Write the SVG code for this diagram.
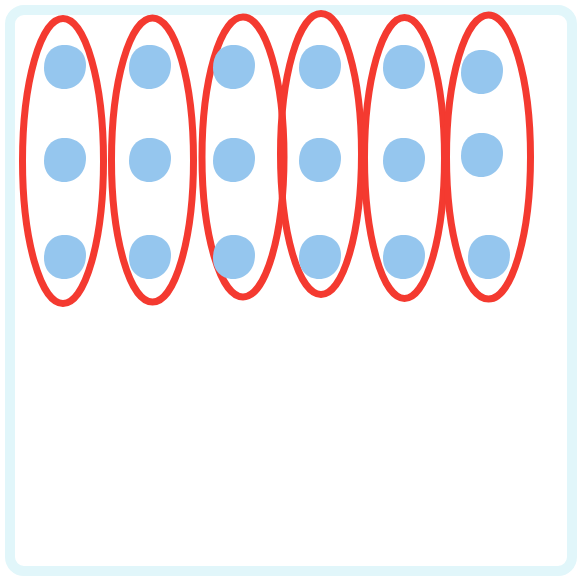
<svg xmlns="http://www.w3.org/2000/svg" width="578" height="576" viewBox="0 0 578 576">
<style>
.frame{fill:#ffffff;stroke:#e1f6fa;stroke-width:10}
.ring{fill:none;stroke:#f43a30;stroke-width:7}
.dot{fill:#95c6ee}
</style>
<rect class="frame" x="10" y="10" width="562" height="561" rx="14"/>
<g id="group1">
<ellipse class="ring" cx="63" cy="161" rx="40.5" ry="142.5"/>
<path class="dot" transform="translate(65 67)" d="M -3 -22 C 11 -23 21 -15 21 -2 C 21 12 12 22 -1 22 C -13 22 -21 13 -21 1 C -21 -12 -14 -21 -3 -22 Z"/>
<path class="dot" transform="translate(65 160)" d="M -3 -22 C 11 -23 21 -15 21 -2 C 21 12 12 22 -1 22 C -13 22 -21 13 -21 1 C -21 -12 -14 -21 -3 -22 Z"/>
<path class="dot" transform="translate(65 257)" d="M -3 -22 C 11 -23 21 -15 21 -2 C 21 12 12 22 -1 22 C -13 22 -21 13 -21 1 C -21 -12 -14 -21 -3 -22 Z"/>
</g>
<g id="group2">
<ellipse class="ring" cx="152.5" cy="160" rx="41" ry="142"/>
<path class="dot" transform="translate(150 67)" d="M -3 -22 C 11 -23 21 -15 21 -2 C 21 12 12 22 -1 22 C -13 22 -21 13 -21 1 C -21 -12 -14 -21 -3 -22 Z"/>
<path class="dot" transform="translate(150 160)" d="M -3 -22 C 11 -23 21 -15 21 -2 C 21 12 12 22 -1 22 C -13 22 -21 13 -21 1 C -21 -12 -14 -21 -3 -22 Z"/>
<path class="dot" transform="translate(150 257)" d="M -3 -22 C 11 -23 21 -15 21 -2 C 21 12 12 22 -1 22 C -13 22 -21 13 -21 1 C -21 -12 -14 -21 -3 -22 Z"/>
</g>
<g id="group3">
<ellipse class="ring" cx="243" cy="157" rx="41" ry="140"/>
<path class="dot" transform="translate(234 67)" d="M -3 -22 C 11 -23 21 -15 21 -2 C 21 12 12 22 -1 22 C -13 22 -21 13 -21 1 C -21 -12 -14 -21 -3 -22 Z"/>
<path class="dot" transform="translate(234 160)" d="M -3 -22 C 11 -23 21 -15 21 -2 C 21 12 12 22 -1 22 C -13 22 -21 13 -21 1 C -21 -12 -14 -21 -3 -22 Z"/>
<path class="dot" transform="translate(234 257)" d="M -3 -22 C 11 -23 21 -15 21 -2 C 21 12 12 22 -1 22 C -13 22 -21 13 -21 1 C -21 -12 -14 -21 -3 -22 Z"/>
</g>
<g id="group4">
<ellipse class="ring" cx="321" cy="154" rx="40.5" ry="140.5"/>
<path class="dot" transform="translate(320 67)" d="M -3 -22 C 11 -23 21 -15 21 -2 C 21 12 12 22 -1 22 C -13 22 -21 13 -21 1 C -21 -12 -14 -21 -3 -22 Z"/>
<path class="dot" transform="translate(320 160)" d="M -3 -22 C 11 -23 21 -15 21 -2 C 21 12 12 22 -1 22 C -13 22 -21 13 -21 1 C -21 -12 -14 -21 -3 -22 Z"/>
<path class="dot" transform="translate(320 257)" d="M -3 -22 C 11 -23 21 -15 21 -2 C 21 12 12 22 -1 22 C -13 22 -21 13 -21 1 C -21 -12 -14 -21 -3 -22 Z"/>
</g>
<g id="group5">
<ellipse class="ring" cx="404.5" cy="158" rx="40" ry="140.5"/>
<path class="dot" transform="translate(404 67)" d="M -3 -22 C 11 -23 21 -15 21 -2 C 21 12 12 22 -1 22 C -13 22 -21 13 -21 1 C -21 -12 -14 -21 -3 -22 Z"/>
<path class="dot" transform="translate(404 160)" d="M -3 -22 C 11 -23 21 -15 21 -2 C 21 12 12 22 -1 22 C -13 22 -21 13 -21 1 C -21 -12 -14 -21 -3 -22 Z"/>
<path class="dot" transform="translate(404 257)" d="M -3 -22 C 11 -23 21 -15 21 -2 C 21 12 12 22 -1 22 C -13 22 -21 13 -21 1 C -21 -12 -14 -21 -3 -22 Z"/>
</g>
<g id="group6">
<ellipse class="ring" cx="488.5" cy="157" rx="42" ry="142"/>
<path class="dot" transform="translate(482 72)" d="M -3 -22 C 11 -23 21 -15 21 -2 C 21 12 12 22 -1 22 C -13 22 -21 13 -21 1 C -21 -12 -14 -21 -3 -22 Z"/>
<path class="dot" transform="translate(482 155)" d="M -3 -22 C 11 -23 21 -15 21 -2 C 21 12 12 22 -1 22 C -13 22 -21 13 -21 1 C -21 -12 -14 -21 -3 -22 Z"/>
<path class="dot" transform="translate(489 257)" d="M -3 -22 C 11 -23 21 -15 21 -2 C 21 12 12 22 -1 22 C -13 22 -21 13 -21 1 C -21 -12 -14 -21 -3 -22 Z"/>
</g>
</svg>
